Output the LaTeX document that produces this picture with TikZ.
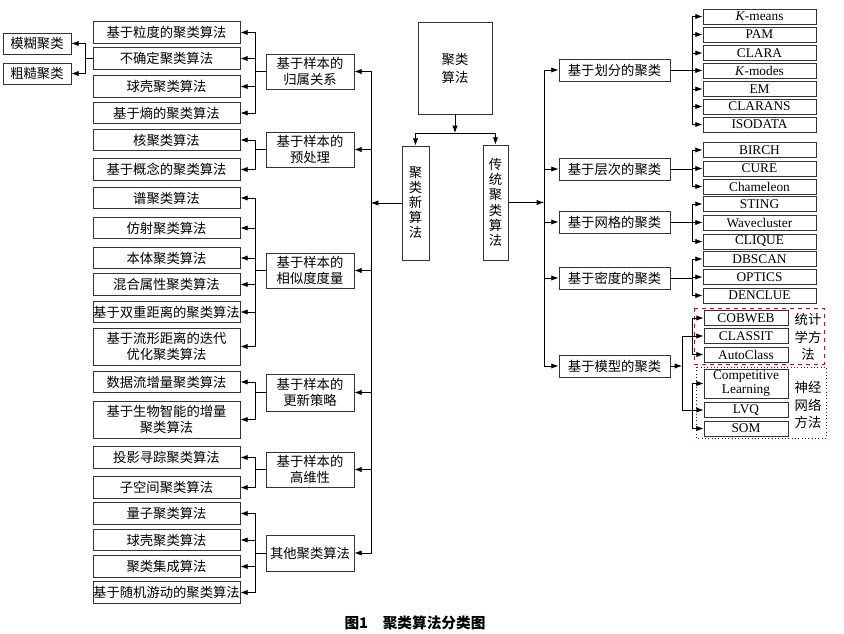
\documentclass[tikz,border=0pt]{standalone}
\usepackage{fontspec}
\setmainfont{Liberation Serif}
\newfontfamily\cjk{Noto Sans CJK SC}
\usetikzlibrary{arrows.meta,positioning}

\begin{document}
\begin{tikzpicture}[x=0.75pt, y=-0.75pt, line width=0.6pt,
    box/.style={draw=black!80, inner sep=0pt, align=center, font=\cjk\fontsize{10}{12.5}\selectfont},
    lbox/.style={box, minimum width=110.25pt, minimum height=16pt},
    mbox/.style={box, minimum width=66pt, minimum height=26.25pt},
    rbox/.style={box, minimum width=83.25pt, minimum height=16.5pt},
    leaf/.style={box, minimum width=84.75pt, minimum height=11.25pt, font=\fontsize{10}{10.5}\selectfont},
    mleaf/.style={leaf, minimum width=63pt},
    arr/.style={-{Latex[length=5.5pt,width=4pt]}}]
    \useasboundingbox (0,0) rectangle (844,634);
    % centre
    \node[box, minimum width=55.5pt, minimum height=69pt, font=\cjk\fontsize{10}{13.5}\selectfont] (root) at (455,68) {聚类\\算法};
    \node[box, minimum width=20.25pt, minimum height=85.5pt, font=\cjk\fontsize{10}{11.2}\selectfont] (xin) at (415.5,203) {聚\\类\\新\\算\\法};
    \node[box, minimum width=18.75pt, minimum height=86.25pt, font=\cjk\fontsize{10}{11.4}\selectfont] (chuantong) at (495.5,202.5) {传\\统\\聚\\类\\算\\法};
    \coordinate (split) at (455,133);
    \coordinate (tl) at (371,203);
    \coordinate (tr) at (544,202.5);
    % left middle column
    \node[mbox] (guishu) at (310,71.5) {基于样本的\\归属关系};
    \node[mbox] (yuchuli) at (310,149.5) {基于样本的\\预处理};
    \node[mbox] (xiangsi) at (310,270.5) {基于样本的\\相似度度量};
    \node[mbox, minimum height=27.75pt] (gengxin) at (310,392.5) {基于样本的\\更新策略};
    \node[mbox] (gaowei) at (310,469.5) {基于样本的\\高维性};
    \node[mbox, minimum height=27pt] (qita) at (310,553) {其他聚类算法};
    % left column
    \node[lbox] (lidu) at (166.5,32.5) {基于粒度的聚类算法};
    \node[lbox] (buqueding) at (166.5,58.5) {不确定聚类算法};
    \node[lbox] (qiuke) at (166.5,86.5) {球壳聚类算法};
    \node[lbox] (shang) at (166.5,113) {基于熵的聚类算法};
    \node[lbox] (he) at (166.5,140) {核聚类算法};
    \node[lbox] (gainian) at (166.5,169.5) {基于概念的聚类算法};
    \node[lbox] (pu) at (166.5,198) {谱聚类算法};
    \node[lbox] (fangshe) at (166.5,228) {仿射聚类算法};
    \node[lbox] (benti) at (166.5,258) {本体聚类算法};
    \node[lbox] (hunhe) at (166.5,284.5) {混合属性聚类算法};
    \node[lbox] (shuangchong) at (166.5,312) {基于双重距离的聚类算法};
    \node[lbox, minimum height=27.75pt] (liuxing) at (166.5,346.5) {基于流形距离的迭代\\优化聚类算法};
    \node[lbox] (shujuliu) at (166.5,382) {数据流增量聚类算法};
    \node[lbox, minimum height=27.75pt] (shengwu) at (166.5,419.5) {基于生物智能的增量\\聚类算法};
    \node[lbox] (touying) at (166.5,457.5) {投影寻踪聚类算法};
    \node[lbox] (zikongjian) at (166.5,487.5) {子空间聚类算法};
    \node[lbox] (liangzi) at (166.5,513.5) {量子聚类算法};
    \node[lbox] (qiuketwo) at (166.5,540) {球壳聚类算法};
    \node[lbox] (jicheng) at (166.5,566.5) {聚类集成算法};
    \node[lbox] (suiji) at (166.5,592.5) {基于随机游动的聚类算法};
    \node[box, minimum width=51pt, minimum height=15.75pt] (mohu) at (37,43.5) {模糊聚类};
    \node[box, minimum width=51pt, minimum height=15.75pt] (cucao) at (37,73.5) {粗糙聚类};
    % right middle column
    \node[rbox] (huafen) at (614.5,70) {基于划分的聚类};
    \node[rbox] (cengci) at (614.5,169) {基于层次的聚类};
    \node[rbox] (wangge) at (614.5,222) {基于网格的聚类};
    \node[rbox] (midu) at (614.5,278) {基于密度的聚类};
    \node[rbox] (moxing) at (614.5,366) {基于模型的聚类};
    % right leaves
    \node[leaf] (kmeans) at (759.5,16.5) {\textit{K}-means};
    \node[leaf] (pam) at (759.5,34.5) {PAM};
    \node[leaf] (clara) at (759.5,53) {CLARA};
    \node[leaf] (kmodes) at (759.5,70.5) {\textit{K}-modes};
    \node[leaf] (em) at (759.5,89) {EM};
    \node[leaf] (clarans) at (759.5,106.5) {CLARANS};
    \node[leaf] (isodata) at (759.5,124.5) {ISODATA};
    \node[leaf] (birch) at (759.5,150) {BIRCH};
    \node[leaf] (cure) at (759.5,168.5) {CURE};
    \node[leaf] (chameleon) at (759.5,186.5) {Chameleon};
    \node[leaf] (sting) at (759.5,204) {STING};
    \node[leaf] (wavecluster) at (759.5,222.5) {Wavecluster};
    \node[leaf] (clique) at (759.5,241.5) {CLIQUE};
    \node[leaf] (dbscan) at (759.5,259) {DBSCAN};
    \node[leaf] (optics) at (759.5,277) {OPTICS};
    \node[leaf] (denclue) at (759.5,295.5) {DENCLUE};
    \node[mleaf] (cobweb) at (746,318) {COBWEB};
    \node[mleaf] (classit) at (746,336) {CLASSIT};
    \node[mleaf] (autoclass) at (746,354.5) {AutoClass};
    \node[mleaf, minimum height=21.75pt] (competitive) at (746,383.5) {Competitive\\Learning};
    \node[mleaf] (lvq) at (746,410) {LVQ};
    \node[mleaf] (som) at (746,428.5) {SOM};
    \draw[red!85!black, dashed, line width=0.5pt] (694,308) rectangle (824,364);
    \draw[violet!70!black, dotted, line width=0.5pt] (696,367) rectangle (826,438);
    \node[align=center, inner sep=0pt, font=\cjk\fontsize{10}{13.1}\selectfont] (tongji) at (808,337) {统计\\学方\\法};
    \node[align=center, inner sep=0pt, font=\cjk\fontsize{10}{13.1}\selectfont] (shenjing) at (808,405) {神经\\网络\\方法};
    \node[font=\cjk\bfseries\fontsize{11}{13}\selectfont] (caption) at (415,623) {图1\quad 聚类算法分类图};
    % junctions
    \coordinate (jbq) at (85,58.5);
    \coordinate (jgs) at (255,71.5);
    \coordinate (jycl) at (255,149.5);
    \coordinate (jxs) at (255,270.5);
    \coordinate (jgx) at (255,392.5);
    \coordinate (jgw) at (255,469.5);
    \coordinate (jqt) at (255,553);
    \coordinate (jhf) at (692,70);
    \coordinate (jcc) at (692,169);
    \coordinate (jwg) at (692,222);
    \coordinate (jmd) at (692,278);
    \coordinate (jmx) at (682,366);
    \coordinate (jtj) at (692,336);
    \coordinate (jsj) at (692,410);
    % connectors
    \draw[arr] (root.south) -- (split);
    \draw[arr] (split) -| (xin.north);
    \draw[arr] (split) -| (chuantong.north);
    \draw[arr] (xin.west) -- (tl);
    \draw[arr] (chuantong.east) -- (tr);
    \draw[arr] (tl) |- (guishu.east);
    \draw[arr] (tl) |- (yuchuli.east);
    \draw[arr] (tl) |- (xiangsi.east);
    \draw[arr] (tl) |- (gengxin.east);
    \draw[arr] (tl) |- (gaowei.east);
    \draw[arr] (tl) |- (qita.east);
    \draw[arr] (tr) |- (huafen.west);
    \draw[arr] (tr) |- (cengci.west);
    \draw[arr] (tr) |- (wangge.west);
    \draw[arr] (tr) |- (midu.west);
    \draw[arr] (tr) |- (moxing.west);
    \draw (guishu.west) -- (jgs);
    \draw[arr] (jgs) |- (lidu.east);
    \draw[arr] (jgs) |- (buqueding.east);
    \draw[arr] (jgs) |- (qiuke.east);
    \draw[arr] (jgs) |- (shang.east);
    \draw (buqueding.west) -- (jbq);
    \draw[arr] (jbq) |- (mohu.east);
    \draw[arr] (jbq) |- (cucao.east);
    \draw (yuchuli.west) -- (jycl);
    \draw[arr] (jycl) |- (he.east);
    \draw[arr] (jycl) |- (gainian.east);
    \draw (xiangsi.west) -- (jxs);
    \draw[arr] (jxs) |- (pu.east);
    \draw[arr] (jxs) |- (fangshe.east);
    \draw[arr] (jxs) |- (benti.east);
    \draw[arr] (jxs) |- (hunhe.east);
    \draw[arr] (jxs) |- (shuangchong.east);
    \draw[arr] (jxs) |- (liuxing.east);
    \draw (gengxin.west) -- (jgx);
    \draw[arr] (jgx) |- (shujuliu.east);
    \draw[arr] (jgx) |- (shengwu.east);
    \draw (gaowei.west) -- (jgw);
    \draw[arr] (jgw) |- (touying.east);
    \draw[arr] (jgw) |- (zikongjian.east);
    \draw (qita.west) -- (jqt);
    \draw[arr] (jqt) |- (liangzi.east);
    \draw[arr] (jqt) |- (qiuketwo.east);
    \draw[arr] (jqt) |- (jicheng.east);
    \draw[arr] (jqt) |- (suiji.east);
    \draw (huafen.east) -- (jhf);
    \draw[arr] (jhf) |- (kmeans.west);
    \draw[arr] (jhf) |- (pam.west);
    \draw[arr] (jhf) |- (clara.west);
    \draw[arr] (jhf) |- (kmodes.west);
    \draw[arr] (jhf) |- (em.west);
    \draw[arr] (jhf) |- (clarans.west);
    \draw[arr] (jhf) |- (isodata.west);
    \draw (cengci.east) -- (jcc);
    \draw[arr] (jcc) |- (birch.west);
    \draw[arr] (jcc) |- (cure.west);
    \draw[arr] (jcc) |- (chameleon.west);
    \draw (wangge.east) -- (jwg);
    \draw[arr] (jwg) |- (sting.west);
    \draw[arr] (jwg) |- (wavecluster.west);
    \draw[arr] (jwg) |- (clique.west);
    \draw (midu.east) -- (jmd);
    \draw[arr] (jmd) |- (dbscan.west);
    \draw[arr] (jmd) |- (optics.west);
    \draw[arr] (jmd) |- (denclue.west);
    \draw[arr] (moxing.east) -- (jmx);
    \draw[arr] (jmx) |- (classit.west);
    \draw[arr] (jmx) |- (lvq.west);
    \draw[arr] (jtj) |- (cobweb.west);
    \draw[arr] (jtj) |- (autoclass.west);
    \draw[arr] (jsj) |- (competitive.west);
    \draw[arr] (jsj) |- (som.west);
\end{tikzpicture}
\end{document}
